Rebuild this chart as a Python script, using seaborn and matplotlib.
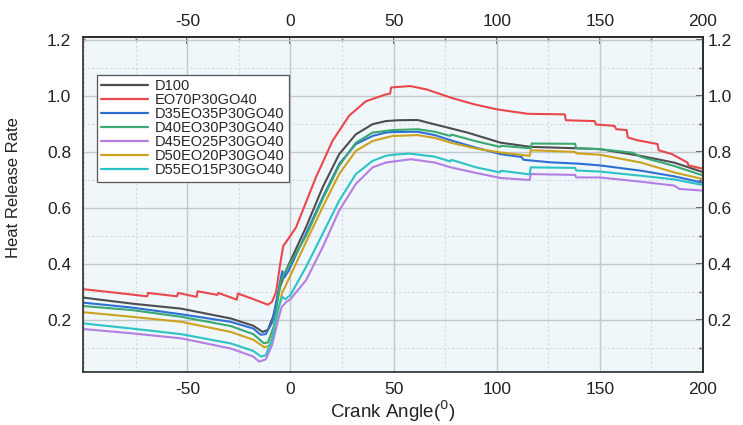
import numpy as np
import pandas as pd
import matplotlib
matplotlib.use("Agg")
import matplotlib.pyplot as plt
from matplotlib.ticker import MultipleLocator, FormatStrFormatter
import seaborn as sns

series_names = ["D100", "EO70P30GO40", "D35EO35P30GO40", "D40EO30P30GO40",
                "D45EO25P30GO40", "D50EO20P30GO40", "D55EO15P30GO40"]
series_colors = ["#4d4d4f", "#e8484b", "#2e6fd3", "#3aa870", "#b47ee3", "#cda21f", "#2cc3c6"]

x_d100 = [-100, -77, -53, -29, -18, -13.5, -11, -8, -5, -2.5, 7.5, 15.6, 23.6, 31.7, 39.8, 46.2,
          52, 61.6, 69.6, 85.8, 101.9, 116.5, 139, 150, 169.7, 186, 200]
y_d100 = [0.28, 0.259, 0.241, 0.206, 0.18, 0.158, 0.165, 0.22, 0.32, 0.372, 0.531, 0.674, 0.792, 0.863, 0.899, 0.91,
          0.913, 0.914, 0.899, 0.869, 0.833, 0.818, 0.813, 0.81, 0.786, 0.762, 0.728]

x_eo70 = [-100, -85, -69.5, -69, -55, -54.5, -45.5, -45, -35.5, -35, -26, -25.5, -18, -11, -9, -7, -5,
          -3.5, -2, 2.7, 12.3, 20.4, 28.5, 36.6, 46.2, 48.3, 48.8, 58, 66, 78, 89, 100, 115, 133, 133.5,
          147.5, 148, 157, 158, 163, 163.5, 168, 178, 178.5, 185, 188, 192.5, 193, 200]
y_eo70 = [0.31, 0.298, 0.285, 0.297, 0.285, 0.297, 0.283, 0.303, 0.29, 0.297, 0.273, 0.295, 0.275, 0.255, 0.265, 0.3, 0.4,
          0.465, 0.48, 0.531, 0.709, 0.84, 0.93, 0.981, 1.005, 1.008, 1.03, 1.035, 1.023, 0.993, 0.97, 0.952, 0.936, 0.934, 0.913,
          0.91, 0.898, 0.893, 0.881, 0.878, 0.852, 0.842, 0.828, 0.806, 0.792, 0.78, 0.762, 0.752, 0.74]

x_d35 = [-100, -77, -53, -29, -18, -14.5, -12, -9, -6, -4, -3, -1, 7.5, 15.6, 23.6, 31.7, 39.8, 46.2,
         49.5, 61.6, 70, 77.5, 90, 101.9, 112, 113, 126, 140, 150, 170, 186, 200]
y_d35 = [0.262, 0.245, 0.221, 0.194, 0.17, 0.148, 0.15, 0.19, 0.3, 0.375, 0.352, 0.375, 0.508, 0.638, 0.757, 0.828, 0.857, 0.869,
         0.871, 0.872, 0.86, 0.842, 0.815, 0.792, 0.782, 0.772, 0.763, 0.758, 0.752, 0.733, 0.713, 0.69]

x_d40 = [-100, -77, -53, -29, -18, -13, -11, -8, -5, -3.5, 7.5, 15.6, 23.6, 31.7, 39.8, 49.5, 61.6, 70,
         77.5, 78, 90, 101.5, 102, 116.5, 117, 138, 138.5, 150, 166, 170, 186, 200]
y_d40 = [0.25, 0.236, 0.212, 0.179, 0.15, 0.118, 0.12, 0.18, 0.33, 0.36, 0.5, 0.632, 0.751, 0.833, 0.869, 0.878, 0.881, 0.872,
         0.857, 0.862, 0.838, 0.818, 0.822, 0.813, 0.83, 0.829, 0.813, 0.81, 0.797, 0.782, 0.75, 0.716]

x_d45 = [-100, -77, -53, -29, -18, -15.2, -12, -9, -6, -4.3, -2, 0, 7.5, 15.6, 23.6, 31.7, 39.8, 46.2, 49,
         58.4, 70, 77.7, 90, 101.9, 116, 116.5, 138, 138.5, 150, 169.7, 186, 188.6, 200]
y_d45 = [0.168, 0.153, 0.135, 0.099, 0.07, 0.052, 0.06, 0.11, 0.2, 0.247, 0.265, 0.275, 0.342, 0.46, 0.591, 0.686, 0.745, 0.762, 0.765,
         0.774, 0.762, 0.745, 0.725, 0.707, 0.7, 0.721, 0.718, 0.709, 0.709, 0.694, 0.68, 0.668, 0.662]

x_d50 = [-100, -77, -53, -29, -18, -12.6, -10, -7, -4, -3, 7.5, 15.6, 23.6, 31.7, 39.8, 49.5, 61.6, 70,
         77.7, 90, 101.9, 116, 116.5, 138, 138.5, 150, 170, 186, 200]
y_d50 = [0.228, 0.212, 0.194, 0.158, 0.13, 0.103, 0.11, 0.2, 0.3, 0.313, 0.478, 0.603, 0.721, 0.804, 0.839, 0.857, 0.86, 0.85,
         0.833, 0.812, 0.798, 0.786, 0.806, 0.8, 0.795, 0.79, 0.762, 0.727, 0.703]

x_d55 = [-100, -77, -53, -29, -18, -14.3, -12, -9, -6, -4, -2.5, 0, 7.5, 15.6, 23.6, 31.7, 39.8, 46.2, 49.5,
         58, 70, 77.5, 78, 90, 101.5, 102, 116, 116.5, 138, 138.5, 150, 170, 186, 200]
y_d55 = [0.188, 0.17, 0.15, 0.117, 0.09, 0.07, 0.075, 0.13, 0.24, 0.283, 0.275, 0.29, 0.389, 0.508, 0.626, 0.721, 0.768, 0.786, 0.79,
         0.794, 0.783, 0.766, 0.772, 0.745, 0.727, 0.733, 0.72, 0.745, 0.743, 0.734, 0.73, 0.715, 0.702, 0.682]

x_lists = [x_d100, x_eo70, x_d35, x_d40, x_d45, x_d50, x_d55]
y_lists = [y_d100, y_eo70, y_d35, y_d40, y_d45, y_d50, y_d55]

x_ticks = [-50, 0, 50, 100, 150, 200]
y_ticks = [0.2, 0.4, 0.6, 0.8, 1.0, 1.2]

frames = []
for name, xs, ys in zip(series_names, x_lists, y_lists):
    frames.append(pd.DataFrame({"angle": xs, "hrr": ys, "series": name}))
df = pd.concat(frames, ignore_index=True)

sns.set_theme(style="white")
plt.rcParams["font.family"] = ["Liberation Sans", "DejaVu Sans"]
plt.rcParams["axes.unicode_minus"] = False

fig = plt.figure(figsize=(7.43, 4.25), dpi=100)
ax = fig.add_axes([83 / 743, 1 - 372 / 425, 620 / 743, 335 / 425])
ax.set_facecolor("#eff7fa")

palette = dict(zip(series_names, series_colors))
sns.lineplot(data=df, x="angle", y="hrr", hue="series", hue_order=series_names,
             palette=palette, estimator=None, sort=False, linewidth=1.5, ax=ax)

ax.set_xlim(-100.6, 200)
ax.set_ylim(0.015, 1.21)
ax.set_xticks(x_ticks)
ax.set_yticks(y_ticks)
ax.xaxis.set_minor_locator(MultipleLocator(25))
ax.yaxis.set_minor_locator(MultipleLocator(0.1))
ax.yaxis.set_major_formatter(FormatStrFormatter("%.1f"))

ax.grid(which="major", color="#c4c8cb", linewidth=1.0, linestyle="-")
ax.grid(which="minor", color="#d6dadd", linewidth=0.8, linestyle=(0, (2, 2)))
ax.set_axisbelow(True)

for sp in ax.spines.values():
    sp.set_color("#2a2a2a")
    sp.set_linewidth(1.2)

tick_kw = dict(colors="#2a2a2a", labelcolor="#222222", labelsize=12.5)
ax.tick_params(axis="both", which="major", direction="out", length=5, width=1.1, **tick_kw)
ax.tick_params(axis="both", which="minor", direction="out", length=3, width=1.0, colors="#2a2a2a")
ax.tick_params(axis="x", pad=2)

top = ax.secondary_xaxis("top")
top.set_xticks(x_ticks)
top.xaxis.set_minor_locator(MultipleLocator(25))
top.tick_params(which="major", direction="in", length=5, width=1.1, **tick_kw)
top.tick_params(which="minor", direction="in", length=3, width=1.0, colors="#2a2a2a")
top.tick_params(axis="x", pad=6)
top.spines["top"].set_color("#2a2a2a")
top.spines["top"].set_linewidth(1.2)

right = ax.secondary_yaxis("right")
right.set_yticks(y_ticks)
right.yaxis.set_minor_locator(MultipleLocator(0.1))
right.yaxis.set_major_formatter(FormatStrFormatter("%.1f"))
right.tick_params(which="major", direction="in", length=5, width=1.1, **tick_kw)
right.tick_params(which="minor", direction="in", length=3, width=1.0, colors="#2a2a2a")
right.spines["right"].set_color("#2a2a2a")
right.spines["right"].set_linewidth(1.2)

ax.set_xlabel("Crank Angle($^0$)", fontsize=13.5, color="#222222")
ax.xaxis.set_label_coords(0.5, -0.079)
ax.set_ylabel("Heat Release Rate", fontsize=12, color="#222222")
ax.yaxis.set_label_coords(-0.1, 0.55)

handles, labels = ax.get_legend_handles_labels()
pairs = [(h, l) for h, l in zip(handles, labels) if l in series_names]
leg = ax.legend([p[0] for p in pairs], [p[1] for p in pairs], loc="upper left",
                bbox_to_anchor=(0.0226, 0.887), fontsize=10.5, frameon=True, fancybox=False,
                edgecolor="#555555", framealpha=1.0, handlelength=3.2, labelspacing=0.0,
                borderpad=0.3, handletextpad=0.45, borderaxespad=0.0)
leg.get_frame().set_linewidth(0.9)
for line in leg.get_lines():
    line.set_linewidth(1.6)

fig.savefig("out.png", dpi=100, facecolor="white")
